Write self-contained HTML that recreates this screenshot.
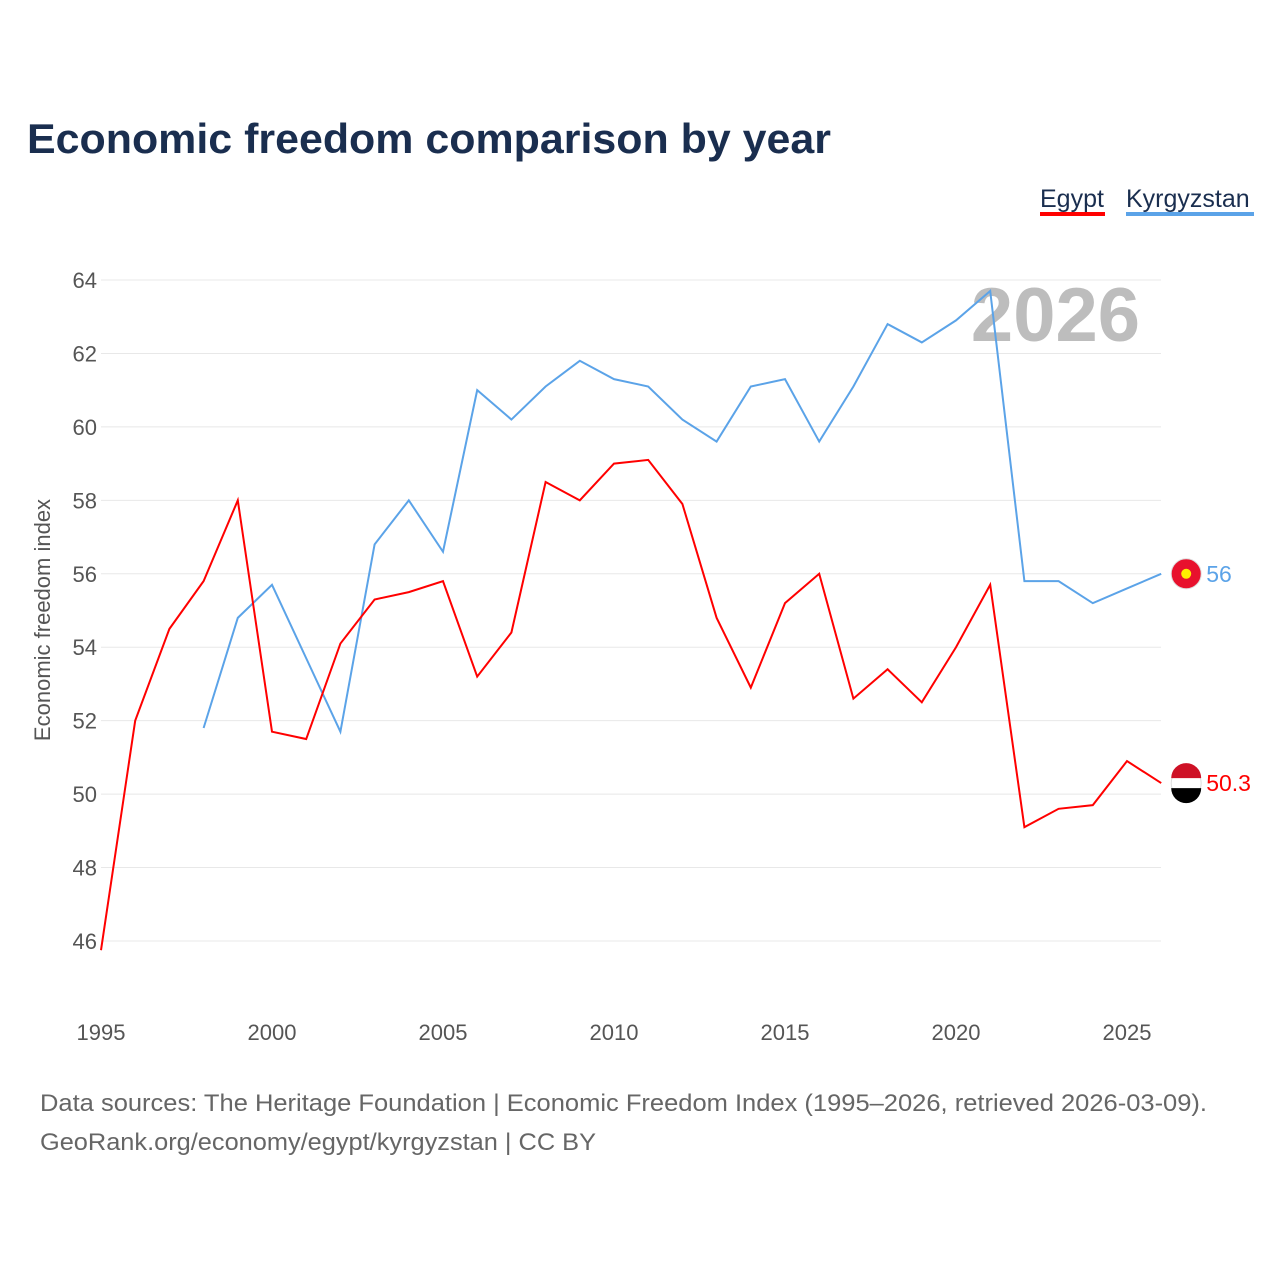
<!DOCTYPE html>
<html><head><meta charset="utf-8"><style>
body{margin:0;background:#fff;font-family:"Liberation Sans",sans-serif;}
svg{display:block}
</style></head><body>
<svg id="chart" width="1280" height="1280" viewBox="0 0 1280 1280">
<text x="27" y="153" font-size="42" font-weight="bold" fill="#1a2e4f" textLength="804" lengthAdjust="spacingAndGlyphs">Economic freedom comparison by year</text>
<g>
<text x="1040" y="207" font-size="25" fill="#1a2e4f">Egypt</text>
<rect x="1040" y="212" width="65" height="4" fill="#ff0000"/>
<text x="1126" y="207" font-size="25" fill="#1a2e4f">Kyrgyzstan</text>
<rect x="1126" y="212" width="128" height="4" fill="#5ba3e8"/>
</g>
<text x="1140" y="341" font-size="76" font-weight="bold" fill="#bdbdbd" text-anchor="end">2026</text>
<g id="grid"></g><g id="axes"></g><g id="lines"></g>
<text transform="translate(50,620) rotate(-90)" font-size="22" fill="#555" text-anchor="middle">Economic freedom index</text>
<text x="40" y="1111" font-size="24.5" fill="#666" textLength="1167" lengthAdjust="spacingAndGlyphs">Data sources: The Heritage Foundation | Economic Freedom Index (1995–2026, retrieved 2026-03-09).</text>
<text x="40" y="1150" font-size="24.5" fill="#666" textLength="556" lengthAdjust="spacingAndGlyphs">GeoRank.org/economy/egypt/kyrgyzstan | CC BY</text>
</svg>
<script>
const egyptYears=[1995,1996,1997,1998,1999,2000,2001,2002,2003,2004,2005,2006,2007,2008,2009,2010,2011,2012,2013,2014,2015,2016,2017,2018,2019,2020,2021,2022,2023,2024,2025,2026];
const egyptValues=[45.75,52.0,54.5,55.8,58.0,51.7,51.5,54.1,55.3,55.5,55.8,53.2,54.4,58.5,58.0,59.0,59.1,57.9,54.8,52.9,55.2,56.0,52.6,53.4,52.5,54.0,55.7,49.1,49.6,49.7,50.9,50.3];
const kyrYears=[1998,1999,2000,2001,2002,2003,2004,2005,2006,2007,2008,2009,2010,2011,2012,2013,2014,2015,2016,2017,2018,2019,2020,2021,2022,2023,2024,2025,2026];
const kyrValues=[51.8,54.8,55.7,53.7,51.7,56.8,58.0,56.6,61.0,60.2,61.1,61.8,61.3,61.1,60.2,59.6,61.1,61.3,59.6,61.1,62.8,62.3,62.9,63.7,55.8,55.8,55.2,55.6,56.0];
const yTicks=[46,48,50,52,54,56,58,60,62,64];
const xTicks=[1995,2000,2005,2010,2015,2020,2025];
const NS="http://www.w3.org/2000/svg";
const x=v=>101+(v-1995)*(1026/30);
const y=v=>941-(v-46)*(661/18);
function mk(tag,attrs,parent){const e=document.createElementNS(NS,tag);for(const k in attrs)e.setAttribute(k,attrs[k]);document.getElementById(parent).appendChild(e);return e;}
yTicks.forEach(t=>{
 const l=mk('line',{x1:101,x2:1161,y1:y(t),y2:y(t),stroke:'#e8e8e8','stroke-width':1},'grid');
 
 
 const tx=mk('text',{x:97,y:y(t)+8,'font-size':22,fill:'#555','text-anchor':'end'},'axes');
 tx.textContent=t;
 
 
});
xTicks.forEach(t=>{
 const tx=mk('text',{x:x(t),y:1040,'font-size':22,fill:'#555','text-anchor':'middle'},'axes');
 tx.textContent=t;
 
 
});
function series(xs,vs,color,name){
 const p=mk('polyline',{points:xs.map((yr,i)=>x(yr)+','+y(vs[i])).join(' '),fill:'none',stroke:color,'stroke-width':2},'lines');
 
 
 const lx=x(xs[xs.length-1]),lv=vs[vs.length-1];
 const c=mk('circle',{cx:lx+25,cy:y(lv),r:15,fill:name==='egypt'?'#fff':'#e8112d',stroke:'#ddd','stroke-width':1},'lines');
 
 
 if(name==='egypt'){
  const a=mk('path',{d:`M${lx+10},${y(lv)-5} A15,15 0 0 1 ${lx+40},${y(lv)-5} Z`,fill:'#ce1126'},'lines');
  
  
  const b=mk('path',{d:`M${lx+10},${y(lv)+5} A15,15 0 0 0 ${lx+40},${y(lv)+5} Z`,fill:'#000'},'lines');
  
  
 } else {
  const s=mk('circle',{cx:lx+25,cy:y(lv),r:5,fill:'#ffef00'},'lines');
  
  
 }
 const t=mk('text',{x:lx+45,y:y(lv)+8,'font-size':23,fill:color},'lines');
 t.textContent=String(lv);
 
 
}
series(kyrYears,kyrValues,'#5ba3e8','kyrgyzstan');
series(egyptYears,egyptValues,'#ff0000','egypt');
</script>
</body></html>
